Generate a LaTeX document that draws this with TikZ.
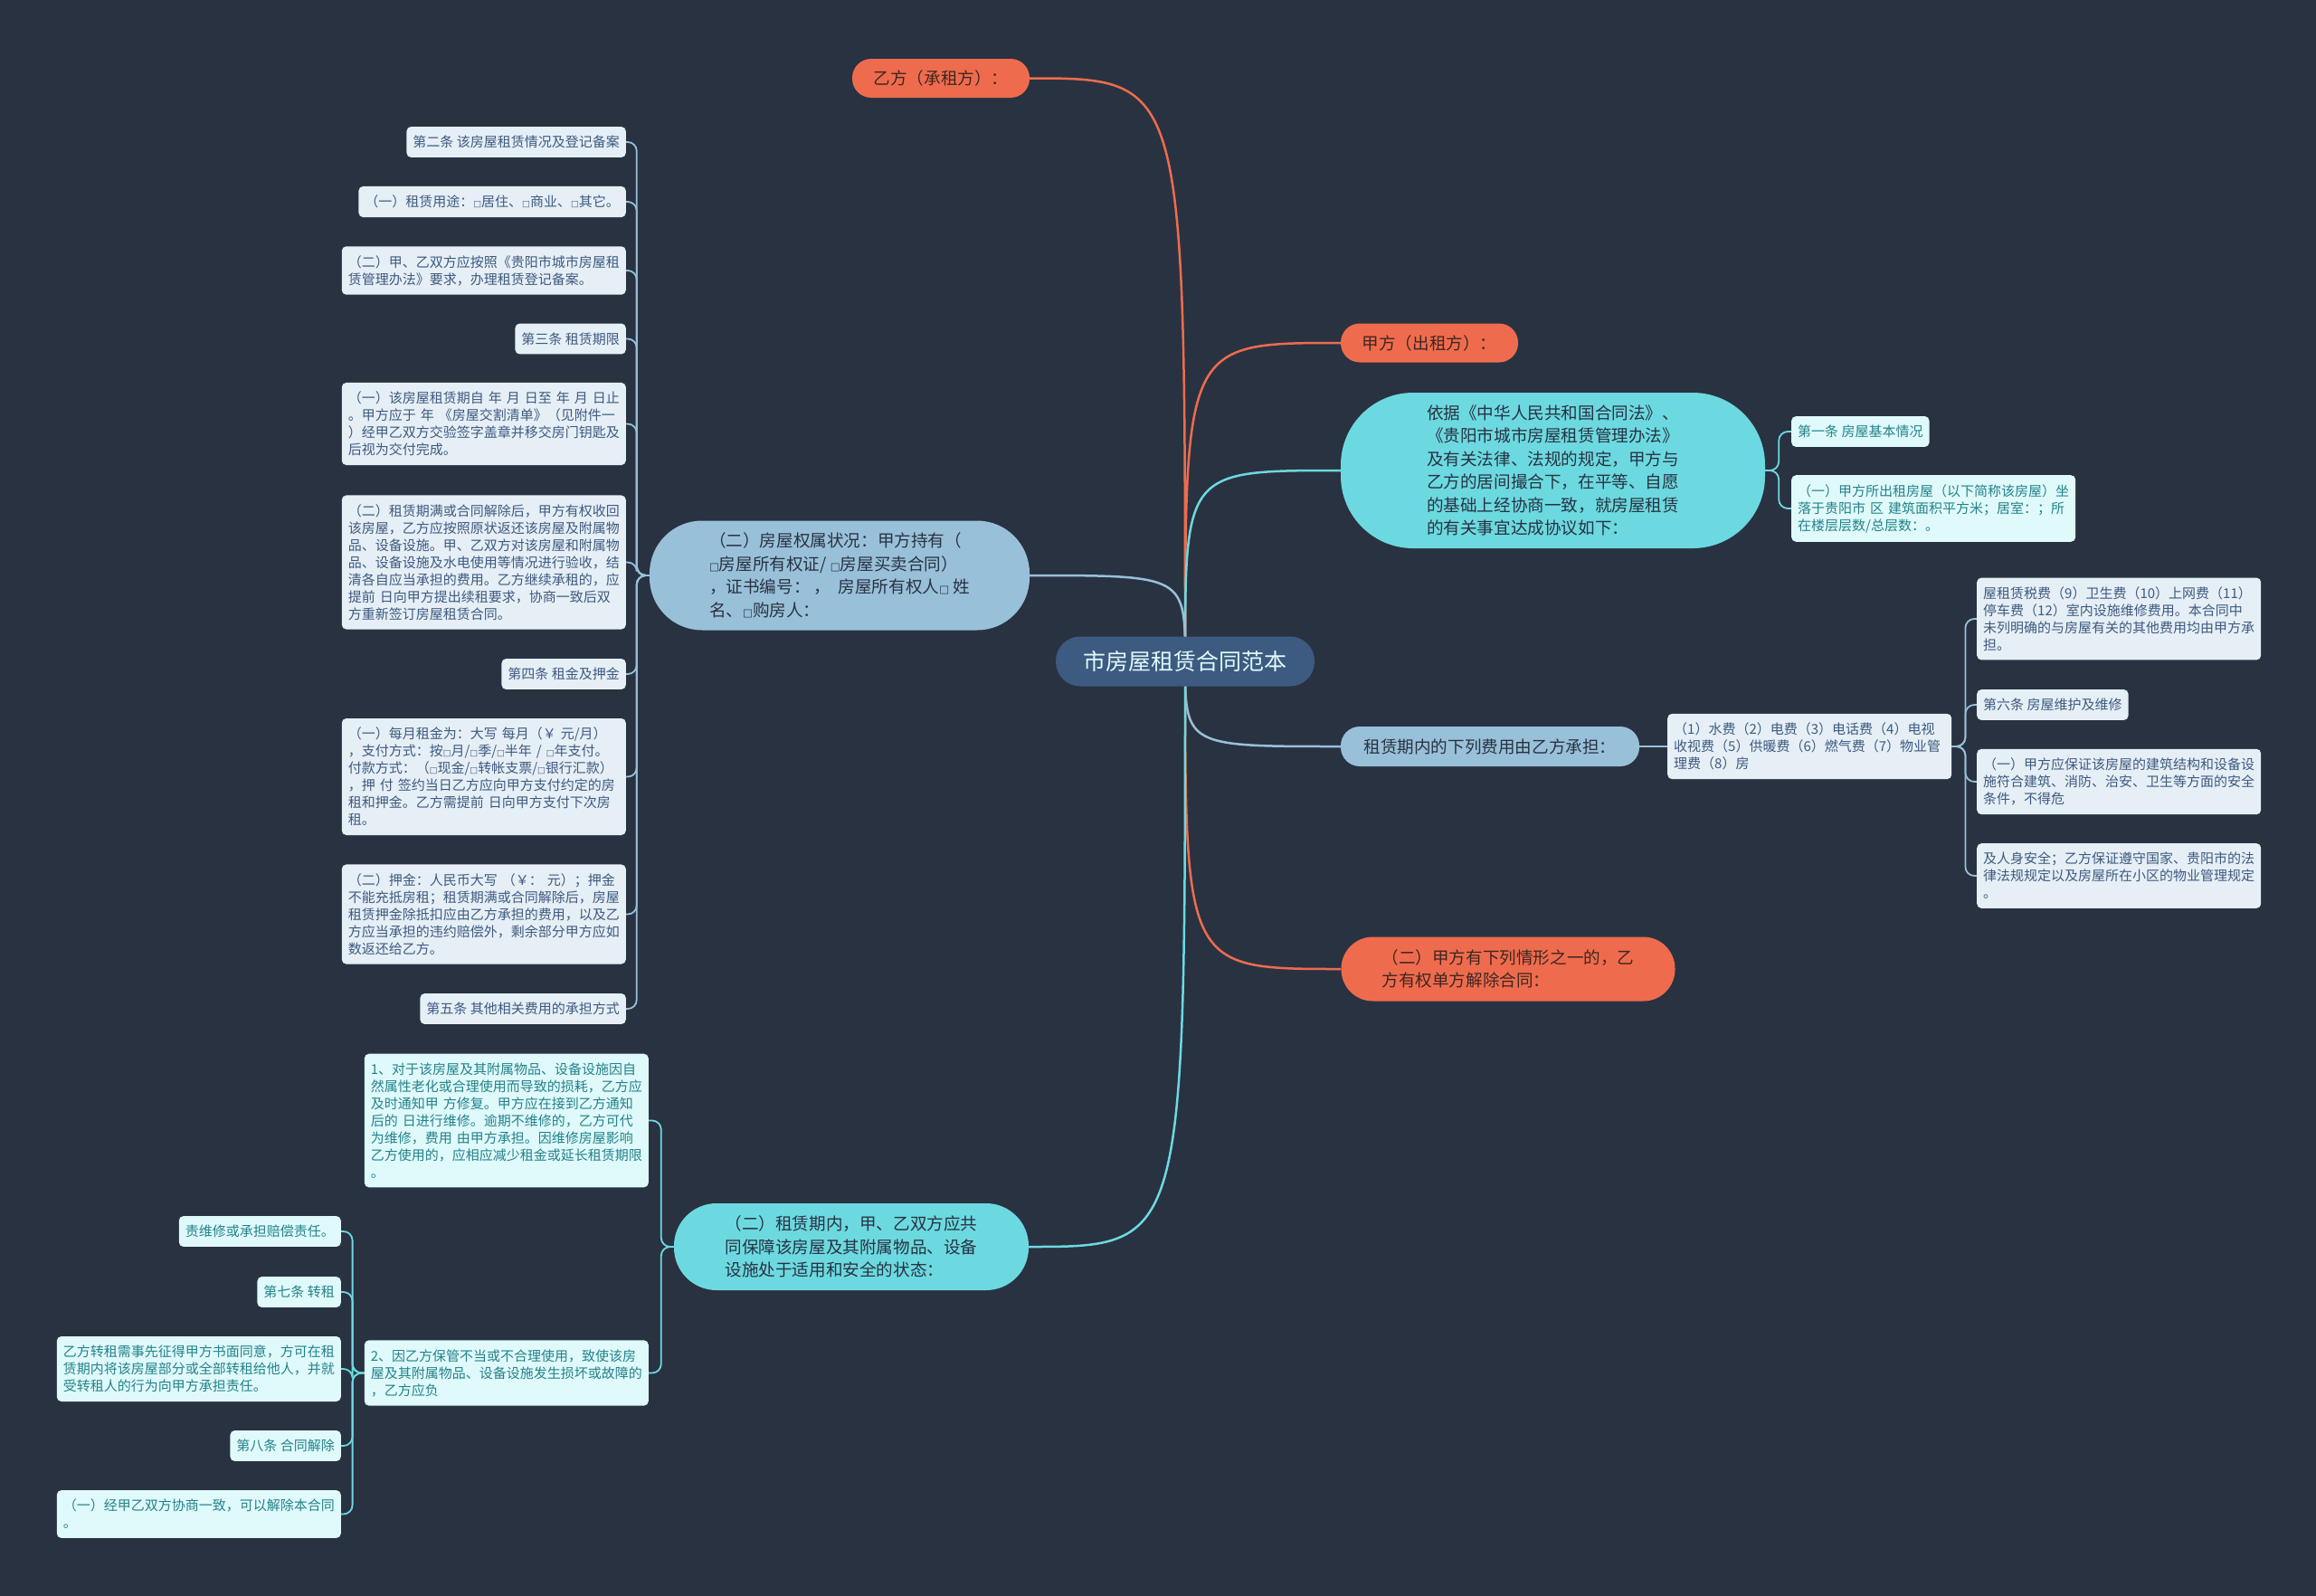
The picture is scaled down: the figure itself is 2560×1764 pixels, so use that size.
\documentclass[tikz,border=0pt]{standalone}
\usepackage{fontspec}
\setmainfont{Noto Sans CJK SC}
\newfontfamily\djv{DejaVu Sans}
\newcommand\bx{{\djv\scalebox{0.62}{□}}}
\definecolor{bgc}{HTML}{293241}
\definecolor{navy}{HTML}{3D5A80}
\definecolor{lblue}{HTML}{98C1D9}
\definecolor{cyanc}{HTML}{6CD9E0}
\definecolor{orng}{HTML}{EE6C4D}
\definecolor{leafb}{HTML}{E6EFF6}
\definecolor{leafc}{HTML}{E0FAFB}
\definecolor{tealtxt}{HTML}{23828A}
\definecolor{darktxt}{HTML}{293241}
\definecolor{orgtxt}{HTML}{3F2622}
\pgfdeclarelayer{bg}
\pgfsetlayers{bg,main}
\tikzset{
 mainnode/.style={align=left, font=\fontsize{18.6}{25.5}\selectfont, inner sep=0pt},
 onode/.style={mainnode, fill=orng, text=orgtxt},
 cnode/.style={mainnode, fill=cyanc, text=darktxt},
 bnode/.style={mainnode, fill=lblue, text=darktxt},
 leaf/.style={align=left, font=\fontsize{15}{19}\selectfont, inner xsep=7pt, inner ysep=10pt, rounded corners=5pt},
 bleaf/.style={leaf, fill=leafb, text=navy},
 cleaf/.style={leaf, fill=leafc, text=tealtxt},
 wide/.style={text width=300pt},
 mline/.style={line width=2.5pt},
 sline/.style={line width=1.8pt, rounded corners=10pt},
}
\begin{document}
\begin{tikzpicture}[x=1pt,y=-1pt]
\begin{pgfonlayer}{bg}
\fill[bgc] (0,0) rectangle (2560,1764);
\end{pgfonlayer}
\useasboundingbox (0,0) rectangle (2560,1764);

% centre and main branches
\node[rounded corners=27pt, fill=navy, text=leafc, font=\fontsize{25}{30}\selectfont, minimum width=286pt, minimum height=55pt, inner sep=0pt] (ctr) at (1310,731) {市房屋租赁合同范本};
\node[onode, minimum width=196pt, minimum height=43pt, rounded corners=21pt] (yi) at (1040,86.5) {乙方（承租方）：};
\node[onode, minimum width=196pt, minimum height=43pt, rounded corners=21pt] (jia) at (1580,379) {甲方（出租方）：};
\node[cnode, minimum width=469pt, minimum height=172pt, rounded corners=80pt] (yiju) at (1716.5,520) {依据《中华人民共和国合同法》、\\《贵阳市城市房屋租赁管理办法》\\及有关法律、法规的规定，甲方与\\乙方的居间撮合下，在平等、自愿\\的基础上经协商一致，就房屋租赁\\的有关事宜达成协议如下：};
\node[bnode, minimum width=330pt, minimum height=44pt, rounded corners=21pt] (fee) at (1647,825) {租赁期内的下列费用由乙方承担：};
\node[onode, minimum width=369pt, minimum height=71pt, rounded corners=35pt] (jie) at (1667,1071) {（二）甲方有下列情形之一的，乙\\方有权单方解除合同：};
\node[bnode, minimum width=420pt, minimum height=121pt, rounded corners=58pt] (quan) at (928,636) {（二）房屋权属状况：甲方持有（\\\bx{}房屋所有权证/~\bx{}房屋买卖合同）\\，证书编号：~，~~房屋所有权人\bx{}~姓\\名、\bx{}购房人：};
\node[cnode, minimum width=392pt, minimum height=96pt, rounded corners=47pt] (bao) at (941,1378) {（二）租赁期内，甲、乙双方应共\\同保障该房屋及其附属物品、设备\\设施处于适用和安全的状态：};

% left blue leaves
\node[bleaf, anchor=east] (l1) at (692,157) {第二条 该房屋租赁情况及登记备案};
\node[bleaf, anchor=east] (l2) at (692,223) {（一）租赁用途：\bx{}居住、\bx{}商业、\bx{}其它。};
\node[bleaf, wide, anchor=east] (l3) at (692,299) {（二）甲、乙双方应按照《贵阳市城市房屋租\\赁管理办法》要求，办理租赁登记备案。};
\node[bleaf, anchor=east] (l4) at (692,374.5) {第三条 租赁期限};
\node[bleaf, wide, anchor=east] (l5) at (692,468.5) {（一）该房屋租赁期自~年~月~日至~年~月~日止\\。甲方应于~年~《房屋交割清单》（见附件一\\）经甲乙双方交验签字盖章并移交房门钥匙及\\后视为交付完成。};
\node[bleaf, wide, anchor=east] (l6) at (692,621.5) {（二）租赁期满或合同解除后，甲方有权收回\\该房屋，乙方应按照原状返还该房屋及附属物\\品、设备设施。甲、乙双方对该房屋和附属物\\品、设备设施及水电使用等情况进行验收，结\\清各自应当承担的费用。乙方继续承租的，应\\提前~日向甲方提出续租要求，协商一致后双\\方重新签订房屋租赁合同。};
\node[bleaf, anchor=east] (l7) at (692,745) {第四条 租金及押金};
\node[bleaf, wide, anchor=east] (l8) at (692,858.5) {（一）每月租金为：大写~每月（￥~元/月）\\，支付方式：按\bx{}月/\bx{}季/\bx{}半年~/~\bx{}年支付。\\付款方式：（\bx{}现金/\bx{}转帐支票/\bx{}银行汇款）\\，押~付~签约当日乙方应向甲方支付约定的房\\租和押金。乙方需提前~日向甲方支付下次房\\租。};
\node[bleaf, wide, anchor=east] (l9) at (692,1010.5) {（二）押金：人民币大写~（￥：~元）；押金\\不能充抵房租；租赁期满或合同解除后，房屋\\租赁押金除抵扣应由乙方承担的费用，以及乙\\方应当承担的违约赔偿外，剩余部分甲方应如\\数返还给乙方。};
\node[bleaf, anchor=east] (l10) at (692,1115) {第五条 其他相关费用的承担方式};

% lower-left cyan leaves
\node[cleaf, wide, anchor=east] (ca) at (717,1238.5) {1、对于该房屋及其附属物品、设备设施因自\\然属性老化或合理使用而导致的损耗，乙方应\\及时通知甲~方修复。甲方应在接到乙方通知\\后的~日进行维修。逾期不维修的，乙方可代\\为维修，费用~由甲方承担。因维修房屋影响\\乙方使用的，应相应减少租金或延长租赁期限\\。};
\node[cleaf, wide, anchor=east] (cb) at (717,1517.5) {2、因乙方保管不当或不合理使用，致使该房\\屋及其附属物品、设备设施发生损坏或故障的\\，乙方应负};
\node[cleaf, anchor=east] (c1) at (377,1361) {责维修或承担赔偿责任。};
\node[cleaf, anchor=east] (c2) at (377,1428) {第七条 转租};
\node[cleaf, wide, anchor=east] (c3) at (377,1513) {乙方转租需事先征得甲方书面同意，方可在租\\赁期内将该房屋部分或全部转租给他人，并就\\受转租人的行为向甲方承担责任。};
\node[cleaf, anchor=east] (c4) at (377,1598) {第八条 合同解除};
\node[cleaf, wide, anchor=east] (c5) at (377,1673.5) {（一）经甲乙双方协商一致，可以解除本合同\\。};

% right cyan leaves
\node[cleaf, anchor=west] (r1) at (1980,477) {第一条 房屋基本情况};
\node[cleaf, wide, anchor=west] (r2) at (1980,562) {（一）甲方所出租房屋（以下简称该房屋）坐\\落于贵阳市~区~建筑面积平方米；居室：；所\\在楼层层数/总层数：。};

% right blue leaves
\node[bleaf, wide, anchor=west] (w) at (1843,825) {（1）水费（2）电费（3）电话费（4）电视\\收视费（5）供暖费（6）燃气费（7）物业管\\理费（8）房};
\node[bleaf, wide, anchor=west] (s1) at (2185,684) {屋租赁税费（9）卫生费（10）上网费（11）\\停车费（12）室内设施维修费用。本合同中\\未列明确的与房屋有关的其他费用均由甲方承\\担。};
\node[bleaf, anchor=west] (s2) at (2185,779) {第六条 房屋维护及维修};
\node[bleaf, wide, anchor=west] (s3) at (2185,864) {（一）甲方应保证该房屋的建筑结构和设备设\\施符合建筑、消防、治安、卫生等方面的安全\\条件，不得危};
\node[bleaf, wide, anchor=west] (s4) at (2185,968) {及人身安全；乙方保证遵守国家、贵阳市的法\\律法规规定以及房屋所在小区的物业管理规定\\。};

% connectors
\begin{pgfonlayer}{bg}
\draw[mline, orng] (ctr.center) .. controls (ctr.center |- yi.east) .. (yi.east);
\draw[mline, orng] (ctr.center) .. controls (ctr.center |- jia.west) .. (jia.west);
\draw[mline, cyanc] (ctr.center) .. controls (ctr.center |- yiju.west) .. (yiju.west);
\draw[mline, lblue] (ctr.center) .. controls (ctr.center |- fee.west) .. (fee.west);
\draw[mline, orng] (ctr.center) .. controls (ctr.center |- jie.west) .. (jie.west);
\draw[mline, lblue] (ctr.center) .. controls (ctr.center |- quan.east) .. (quan.east);
\draw[mline, cyanc] (ctr.center) .. controls (ctr.center |- bao.east) .. (bao.east);
\foreach \c in {l1,l2,l3,l4,l5,l6,l7,l8,l9,l10}
  \draw[sline, lblue] (quan.west) -- ++(-14,0) |- (\c.east);
\foreach \c in {ca,cb}
  \draw[sline, cyanc] (bao.west) -- ++(-14,0) |- (\c.east);
\foreach \c in {c1,c2,c3,c4,c5}
  \draw[sline, cyanc] (cb.west) -- ++(-13,0) |- (\c.east);
\foreach \c in {r1,r2}
  \draw[sline, cyanc] (yiju.east) -- ++(15,0) |- (\c.west);
\draw[sline, lblue] (fee.east) -- (w.west);
\foreach \c in {s1,s2,s3,s4}
  \draw[sline, lblue] (w.east) -- ++(15,0) |- (\c.west);
\end{pgfonlayer}
\end{tikzpicture}
\end{document}
